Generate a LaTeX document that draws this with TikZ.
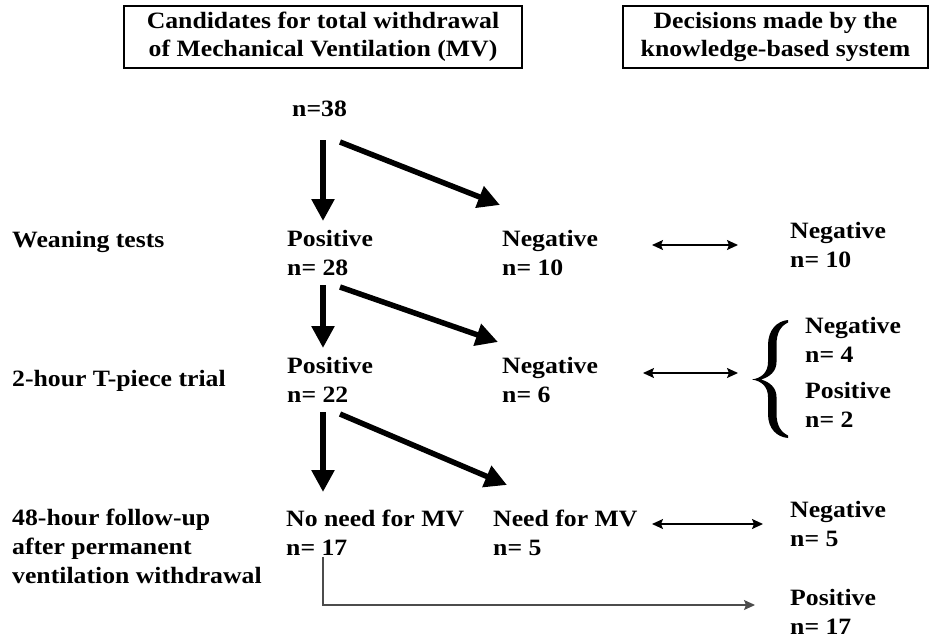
\documentclass[tikz,border=0pt]{standalone}
\usepackage{fontspec}
\setmainfont{Liberation Serif}[FakeStretch=1.1]
\usetikzlibrary{arrows.meta}
\begin{document}
\begin{tikzpicture}[x=1pt,y=-1pt,
  txt/.style={inner sep=0pt,anchor=base west,align=left,font=\bfseries\fontsize{23.4}{29}\selectfont},
  hdr/.style={draw,line width=1.4pt,inner sep=0pt,align=center,font=\bfseries\fontsize{23.4}{28}\selectfont},
  bigarrow/.style={line width=5.5pt,-{Triangle[length=22pt,width=22pt]}},
  dbl/.style={line width=1.4pt,{Stealth[length=11pt,width=10pt,inset=2pt]}-{Stealth[length=11pt,width=10pt,inset=2pt]}},
  thin/.style={line width=1.2pt,draw=black!70,-{Stealth[length=11pt,width=10pt,inset=2pt]}}]
\useasboundingbox (0,0) rectangle (930,641);
% headers
\node[hdr,minimum width=398pt,minimum height=62pt] (h1) at (323,37) {Candidates for total withdrawal\\of Mechanical Ventilation (MV)};
\node[hdr,minimum width=305pt,minimum height=62pt] (h2) at (775.5,37) {Decisions made by the\\knowledge-based system};
% left labels (anchor = baseline of last line)
\node[txt] (l1) at (12,247) {Weaning tests};
\node[txt] (l2) at (12,386) {2-hour T-piece trial};
\node[txt] (l3) at (12,583) {48-hour follow-up\\after permanent\\ventilation withdrawal};
% tree
\node[txt] (n38) at (292,116) {n=38};
\node[txt] (p1) at (287,275) {Positive\\n= 28};
\node[txt] (g1) at (502,275) {Negative\\n= 10};
\node[txt] (p2) at (287,402) {Positive\\n= 22};
\node[txt] (g2) at (502,402) {Negative\\n= 6};
\node[txt] (p3) at (286,555) {No need for MV\\n= 17};
\node[txt] (g3) at (493,555) {Need for MV\\n= 5};
% decisions
\node[txt] (d1) at (790,267) {Negative\\n= 10};
\node[txt] (d2a) at (805,362) {Negative\\n= 4};
\node[txt] (d2b) at (805,427) {Positive\\n= 2};
\node[txt] (d3a) at (790,546) {Negative\\n= 5};
\node[txt] (d3b) at (790,634) {Positive\\n= 17};
% brace
\fill (788,320) .. controls (777,321) and (768,330) .. (768,345)
  -- (768,362) .. controls (768,372) and (762,378) .. (752,379.5)
  .. controls (762,381) and (768,387) .. (768,397)
  -- (768,414) .. controls (768,429) and (777,437) .. (788,438)
  -- (788,435.5) .. controls (781,432) and (776.5,426) .. (776.5,413)
  -- (776.5,397) .. controls (776.5,388) and (770,382) .. (761,379.5)
  .. controls (770,377) and (776.5,371) .. (776.5,362)
  -- (776.5,345) .. controls (776.5,332) and (781,326) .. (788,322.5) -- cycle;
% arrow end points
\coordinate (a1s) at (323,140); \coordinate (a1e) at (323,221);
\coordinate (b1s) at (340,142); \coordinate (b1e) at (500,205);
\coordinate (a2s) at (323,285); \coordinate (a2e) at (323,348);
\coordinate (b2s) at (340,287); \coordinate (b2e) at (498,342);
\coordinate (a3s) at (323,412); \coordinate (a3e) at (323,492);
\coordinate (b3s) at (340,414); \coordinate (b3e) at (507,485);
\draw[bigarrow] (a1s) -- (a1e);
\draw[bigarrow] (b1s) -- (b1e);
\draw[bigarrow] (a2s) -- (a2e);
\draw[bigarrow] (b2s) -- (b2e);
\draw[bigarrow] (a3s) -- (a3e);
\draw[bigarrow] (b3s) -- (b3e);
% double arrows
\coordinate (c1s) at (652,245); \coordinate (c1e) at (738,245);
\coordinate (c2s) at (643,373); \coordinate (c2e) at (738,373);
\coordinate (c3s) at (652,524); \coordinate (c3e) at (763,524);
\draw[dbl] (c1s) -- (c1e);
\draw[dbl] (c2s) -- (c2e);
\draw[dbl] (c3s) -- (c3e);
% follow-up line
\coordinate (fs) at (323,557); \coordinate (fe) at (755,605);
\draw[thin] (fs) |- (fe);
\end{tikzpicture}
\end{document}
